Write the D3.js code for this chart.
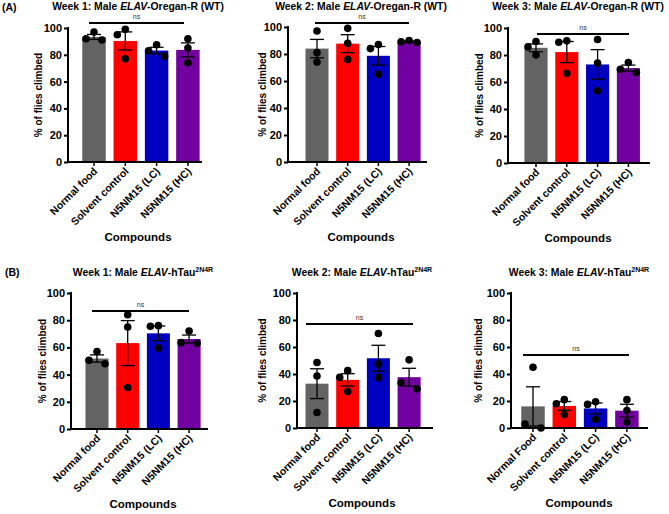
<!DOCTYPE html>
<html>
<head>
<meta charset="utf-8">
<script src="https://cdn.jsdelivr.net/npm/d3@7"></script>
<style>
  body { margin: 0; background: #fff; }
  text { font-family: "Liberation Sans", Arial, sans-serif; }
</style>
</head>
<body>
<div id="chart"></div>
<script>
// Data
var groups = ["Normal food", "Solvent control", "N5NM15 (LC)", "N5NM15 (HC)"];
var groupsB3 = ["Normal Food", "Solvent control", "N5NM15 (LC)", "N5NM15 (HC)"];
var colors = ["#636363", "#ff0000", "#0000c0", "#7200a0"];

// individual replicate points per group (% climbed)
var wtWeek1 = [[91, 97, 92], [99, 95, 77], [87.5, 83, 79], [92, 85, 74]];
var wtWeek2 = [[97, 81, 74], [99, 88, 76], [87, 84, 65], [89, 90, 88.5]];
var wtWeek3 = [[90, 86, 80], [90.5, 89.5, 66.5], [91.5, 74, 53.5], [74.5, 69.5, 67]];
var tauWeek1 = [[57, 48, 50.5], [84, 75, 30.5], [76, 75.5, 59.5], [72, 63, 63.5]];
var tauWeek2 = [[48.5, 38.5, 11.5], [42.5, 37.5, 27], [70, 47.5, 37.5], [50.5, 33.5, 29]];
var tauWeek3 = [[45, 0, 3], [21, 18, 10], [19.5, 17.5, 6.5], [21, 13, 4.5]];

var yTicks = [0, 20, 40, 60, 80, 100];

var width = 669, height = 514;
var svg = d3.select("#chart").append("svg")
    .attr("width", width)
    .attr("height", height);

// panel layout (pixel frame of each plot)
var panels = [
  {data: wtWeek1, names: groups, title: ["Week 1: Male ", "ELAV", "-Oregan-R (WT)"], sup: false,
   left: 68, right: 202, top: 28, bottom: 162, c0: 94, step: 31.3, nsY: 23, nsX: [89, 184], titleX: 138, titleY: 10, labX: 38},
  {data: wtWeek2, names: groups, title: ["Week 2: Male ", "ELAV", "-Oregan-R (WT)"], sup: false,
   left: 288, right: 427, top: 27, bottom: 162, c0: 317, step: 30.7, nsY: 23, nsX: [315, 409], titleX: 361, titleY: 10, labX: 262},
  {data: wtWeek3, names: groups, title: ["Week 3: Male ", "ELAV", "-Oregan-R (WT)"], sup: false,
   left: 508, right: 650, top: 28, bottom: 163, c0: 536, step: 30.8, nsY: 34, nsX: [537, 629], titleX: 578, titleY: 10, labX: 479},
  {data: tauWeek1, names: groups, title: ["Week 1: Male ", "ELAV", "-hTau"], sup: true,
   left: 71, right: 208, top: 293, bottom: 429, c0: 97, step: 30.7, nsY: 311, nsX: [92, 189], titleX: 143, titleY: 276, labX: 42},
  {data: tauWeek2, names: groups, title: ["Week 2: Male ", "ELAV", "-hTau"], sup: true,
   left: 297, right: 433, top: 293, bottom: 428, c0: 317, step: 30.7, nsY: 324, nsX: [306, 413], titleX: 362, titleY: 276, labX: 262},
  {data: tauWeek3, names: groupsB3, title: ["Week 3: Male ", "ELAV", "-hTau"], sup: true,
   left: 511, right: 648, top: 293, bottom: 428, c0: 533, step: 31.3, nsY: 355, nsX: [523, 629], titleX: 579, titleY: 276, labX: 478}
];

panels.forEach(function (p) {
  var g = svg.append("g");

  var y = d3.scaleLinear().domain([0, 100]).range([p.bottom, p.top]);
  var x = d3.scaleBand()
      .domain(p.names)
      .range([p.c0 - p.step / 2, p.c0 + p.step * 3.5])
      .paddingInner(0.25)
      .paddingOuter(0.125);

  var stats = p.data.map(function (pts, i) {
    var m = d3.mean(pts);
    var sem = d3.deviation(pts) / Math.sqrt(pts.length);
    return {name: p.names[i], pts: pts, mean: m, sem: sem, color: colors[i]};
  });

  // bars
  g.selectAll("rect.bar")
    .data(stats)
    .enter().append("rect")
    .attr("class", "bar")
    .attr("x", function (d) { return x(d.name); })
    .attr("width", x.bandwidth())
    .attr("y", function (d) { return y(d.mean); })
    .attr("height", function (d) { return y(0) - y(d.mean); })
    .style("fill", function (d) { return d.color; });

  // error bars (mean +/- SEM)
  var cap = 7;
  var eb = g.selectAll("g.err")
    .data(stats)
    .enter().append("g")
    .attr("class", "err")
    .attr("transform", function (d) { return "translate(" + (x(d.name) + x.bandwidth() / 2) + ",0)"; });
  eb.append("line")
    .attr("y1", function (d) { return y(d.mean - d.sem); })
    .attr("y2", function (d) { return y(d.mean + d.sem); })
    .style("stroke", "#000").style("stroke-width", 1.3);
  eb.append("line")
    .attr("x1", -cap).attr("x2", cap)
    .attr("y1", function (d) { return y(d.mean + d.sem); })
    .attr("y2", function (d) { return y(d.mean + d.sem); })
    .style("stroke", "#000").style("stroke-width", 1.3);
  eb.append("line")
    .attr("x1", -cap).attr("x2", cap)
    .attr("y1", function (d) { return y(d.mean - d.sem); })
    .attr("y2", function (d) { return y(d.mean - d.sem); })
    .style("stroke", "#000").style("stroke-width", 1.3);

  // replicate points, spread horizontally when they overlap
  stats.forEach(function (d) {
    var cx = x(d.name) + x.bandwidth() / 2;
    var placed = d.pts.slice().sort(d3.descending);
    g.selectAll(null)
      .data(placed.map(function (v, k) { return {v: v, dx: [0, -1, 1][k]}; }))
      .enter().append("circle")
      .attr("cx", function (e) {
        var near = placed.filter(function (o) { return Math.abs(y(o) - y(e.v)) < 7; }).length > 1;
        return cx + (near ? e.dx * 8 : 0);
      })
      .attr("cy", function (e) { return y(e.v); })
      .attr("r", 3.8)
      .style("fill", "#000");
  });

  // axes
  var yAxis = d3.axisLeft(y).tickValues(yTicks).tickSize(4).tickSizeOuter(0);
  var ya = g.append("g")
    .attr("transform", "translate(" + p.left + ",0)")
    .call(yAxis);
  ya.select(".domain").remove();
  ya.append("line").attr("x1", 0).attr("x2", 0).attr("y1", p.top - 1).attr("y2", p.bottom + 1)
    .style("stroke", "#000").style("stroke-width", 2);
  ya.selectAll(".tick line").style("stroke-width", 2);
  ya.selectAll(".tick text")
    .attr("x", -6)
    .style("font-size", "11px").style("font-weight", "bold").style("fill", "#000")
    .style("font-family", "Liberation Sans, Arial, sans-serif");

  var xAxis = d3.axisBottom(x).tickSize(4).tickSizeOuter(0);
  var xa = g.append("g")
    .attr("transform", "translate(0," + p.bottom + ")")
    .call(xAxis);
  xa.select(".domain").remove();
  xa.append("line").attr("x1", p.left - 1).attr("x2", p.right).attr("y1", 0).attr("y2", 0)
    .style("stroke", "#000").style("stroke-width", 2);
  xa.selectAll(".tick line").style("stroke-width", 1.5);
  xa.selectAll(".tick text")
    .attr("y", 0).attr("dy", 0)
    .attr("transform", "translate(4,10) rotate(-45)")
    .style("text-anchor", "end")
    .style("font-size", "10.5px").style("font-weight", "bold").style("fill", "#000")
    .style("font-family", "Liberation Sans, Arial, sans-serif");

  // significance line
  g.append("line")
    .attr("x1", p.nsX[0]).attr("x2", p.nsX[1])
    .attr("y1", p.nsY).attr("y2", p.nsY)
    .style("stroke", "#000").style("stroke-width", 2);
  g.append("text")
    .attr("x", (p.nsX[0] + p.nsX[1]) / 2)
    .attr("y", p.nsY - 4)
    .attr("text-anchor", "middle")
    .style("font-size", "7px")
    .style("fill", "#333")
    .text("ns");

  // y label
  g.append("text")
    .attr("transform", "translate(" + p.labX + "," + ((p.top + p.bottom) / 2) + ") rotate(-90)")
    .attr("text-anchor", "middle")
    .attr("dy", "0.35em")
    .style("font-size", "10px").style("font-weight", "bold")
    .text("% of flies climbed");

  // x label
  g.append("text")
    .attr("x", p.titleX)
    .attr("y", p.bottom + 79)
    .attr("text-anchor", "middle")
    .style("font-size", "11.5px").style("font-weight", "bold")
    .text("Compounds");

  // title
  var t = g.append("text")
    .attr("x", p.titleX)
    .attr("y", p.titleY)
    .attr("text-anchor", "middle")
    .style("font-size", "10.4px").style("font-weight", "bold");
  t.append("tspan").text(p.title[0]);
  t.append("tspan").style("font-style", "italic").text(p.title[1]);
  t.append("tspan").text(p.title[2]);
  if (p.sup) {
    t.append("tspan").attr("dy", -4).style("font-size", "7px").text("2N4R");
  }
});

// panel letters
svg.append("text").attr("x", 2).attr("y", 11)
  .style("font-size", "10.5px").style("font-weight", "bold").text("(A)");
svg.append("text").attr("x", 5).attr("y", 276)
  .style("font-size", "10.5px").style("font-weight", "bold").text("(B)");
</script>
</body>
</html>
